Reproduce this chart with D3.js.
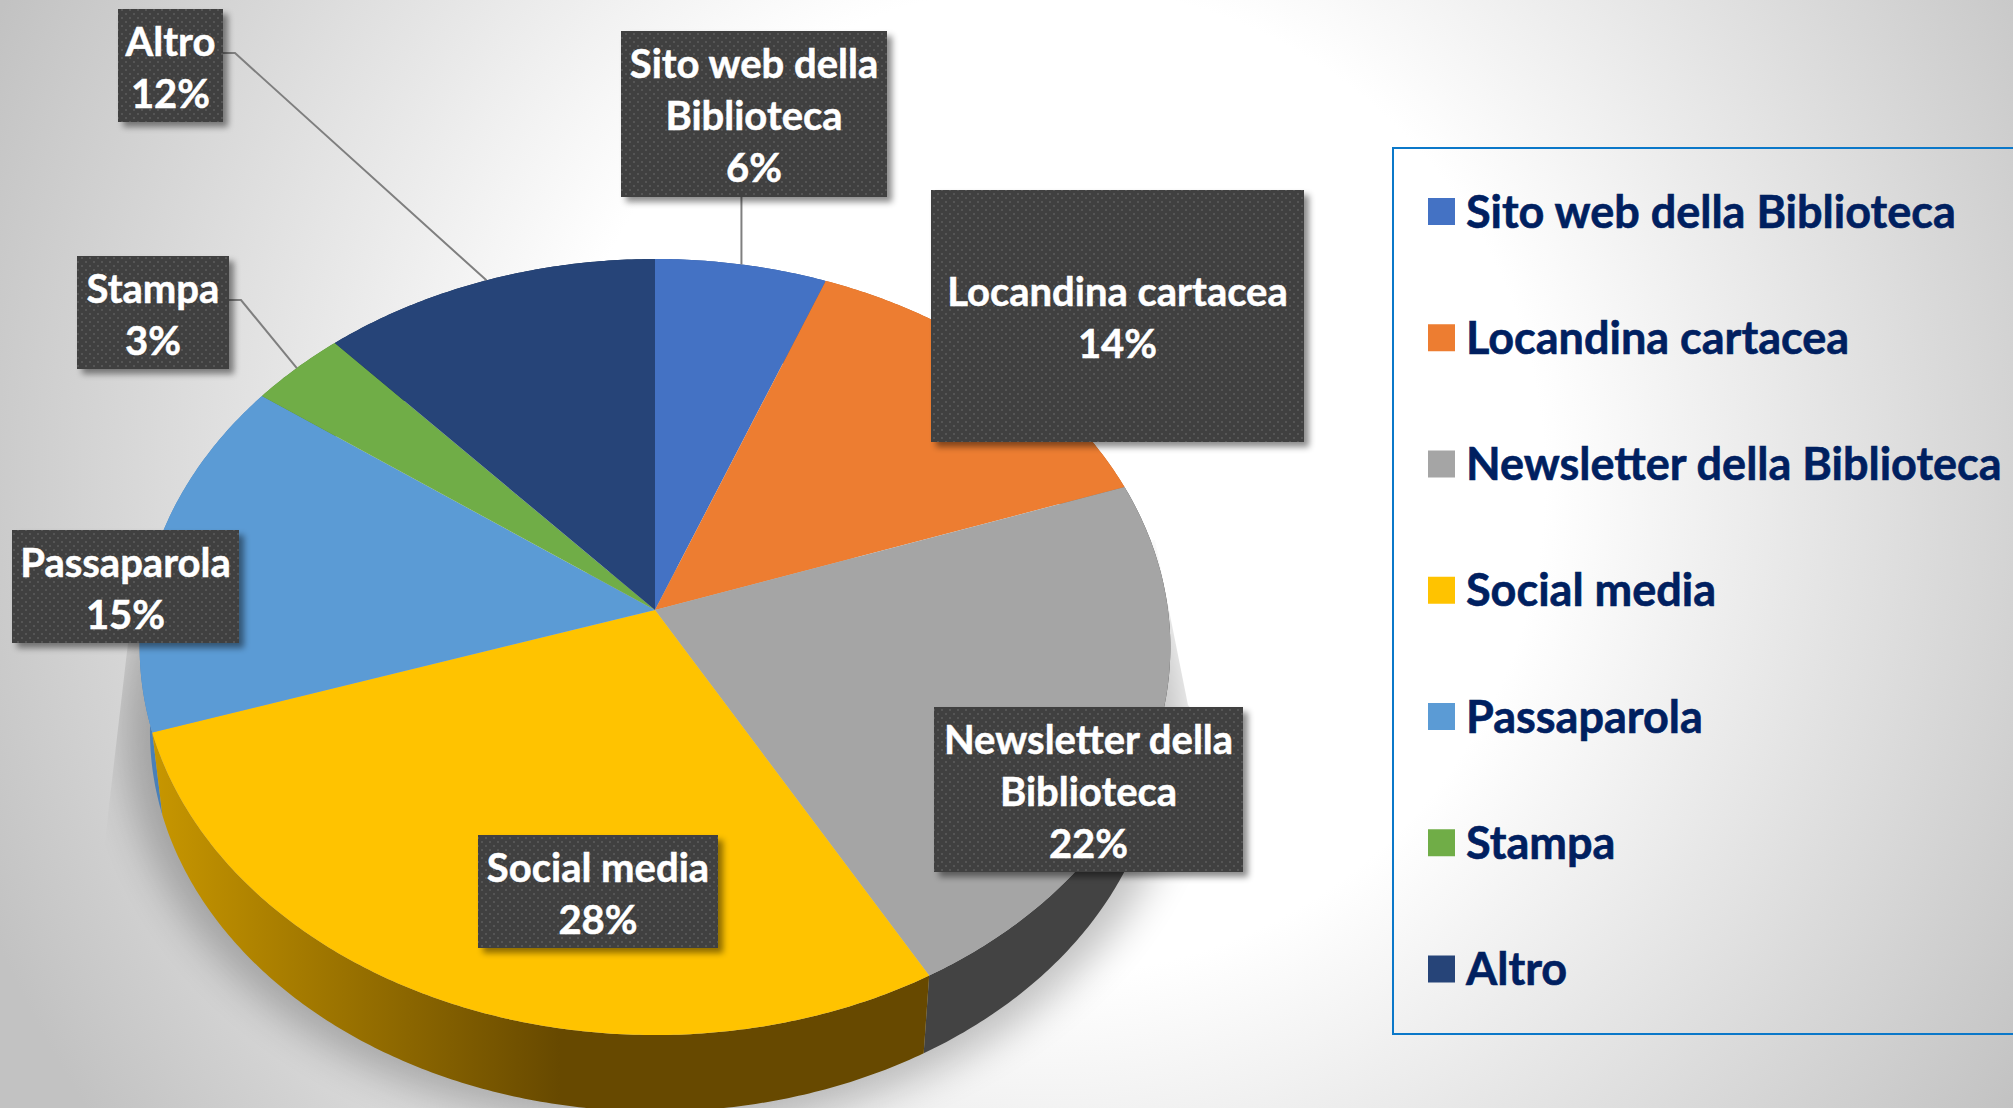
<!DOCTYPE html>
<html>
<head>
<meta charset="utf-8">
<script src="https://cdn.jsdelivr.net/npm/d3@7"></script>
<style>
    html, body { margin: 0; padding: 0; background: #fff; overflow: hidden; }
    svg { display: block; }
    text { font-family: Lato, "Open Sans", sans-serif; font-weight: 700; }
</style>
</head>
<body>
<svg width="2013" height="1108"></svg>
<script>
;(function(){

    var categories = ["Sito web della Biblioteca", "Locandina cartacea", "Newsletter della Biblioteca",
        "Social media", "Passaparola", "Stampa", "Altro"];
    var values = [5.9, 13.75, 22.2, 28.15, 15, 3.35, 11.65];
    var sliceColors = ["#4472C4", "#ED7D31", "#A5A5A5", "#FFC300", "#5B9BD5", "#70AD47", "#264478"];
    var wallColors = ["#2f5597", "#b85f1f", "#434343", "url(#wallGold)", "#4a80b8", "#55853a", "#1b3257"];

    // testo delle etichette, a capo come nel grafico
    var labelLines = [["Sito web della", "Biblioteca"], ["Locandina cartacea"], ["Newsletter della", "Biblioteca"],
        ["Social media"], ["Passaparola"], ["Stampa"], ["Altro"]];
    // riquadri delle etichette: x0, y0, x1, y1
    var labelBoxes = [[621, 31, 887, 197], [931, 190, 1304, 442], [934, 707, 1243, 872],
        [478, 835, 718, 948], [12, 530, 239, 643], [77, 256, 229, 369], [118, 9, 223, 122]];
    var hasLeader = [true, false, false, false, false, true, true];

    var svg = d3.select("svg"),
        width = +svg.attr("width"),
        height = +svg.attr("height");

    // torta vista in prospettiva
    var cx = 655, cy = 610,
        rx = 513, ry = 384.5,
        persp = 0.0954,
        depth = 85, bottomScale = 0.98;

    function project(angle, scale, dy){
        var den = 1 + persp * Math.cos(angle);
        return [cx + scale * rx * Math.sin(angle) / den,
                cy + dy - scale * ry * Math.cos(angle) / den];
    }

    function rim(a0, a1, scale, dy){
        var n = Math.max(2, Math.ceil(Math.abs(a1 - a0) / 0.01));
        return d3.range(n + 1).map(function(i){
            return project(a0 + (a1 - a0) * i / n, scale, dy);
        });
    }

    var line = d3.line();
    var pie = d3.pie().sort(null)(values);

    var defs = svg.append("defs");

    var bg = defs.append("radialGradient").attr("id", "bg")
        .attr("gradientUnits", "userSpaceOnUse")
        .attr("cx", 1050).attr("cy", 480).attr("r", 1150);
    bg.append("stop").attr("offset", 0.43).attr("stop-color", "#ffffff");
    bg.append("stop").attr("offset", 1).attr("stop-color", "#c2c2c2");

    var gold = defs.append("linearGradient").attr("id", "wallGold")
        .attr("gradientUnits", "userSpaceOnUse")
        .attr("x1", 150).attr("x2", 560).attr("y1", 0).attr("y2", 0);
    gold.append("stop").attr("offset", 0).attr("stop-color", "#c89700");
    gold.append("stop").attr("offset", 1).attr("stop-color", "#674900");

    var dots = defs.append("pattern").attr("id", "dots")
        .attr("patternUnits", "userSpaceOnUse")
        .attr("width", 8).attr("height", 8);
    dots.append("rect").attr("width", 8).attr("height", 8).attr("fill", "#404040");
    dots.append("rect").attr("x", 1).attr("y", 1).attr("width", 2).attr("height", 2).attr("fill", "#545454");
    dots.append("rect").attr("x", 5).attr("y", 5).attr("width", 2).attr("height", 2).attr("fill", "#545454");

    defs.append("filter").attr("id", "boxShadow")
        .attr("x", "-10%").attr("y", "-10%").attr("width", "130%").attr("height", "130%")
        .append("feDropShadow")
        .attr("dx", 5).attr("dy", 5).attr("stdDeviation", 3)
        .attr("flood-color", "#000").attr("flood-opacity", 0.45);

    defs.append("filter").attr("id", "pieBlur")
        .attr("x", "-15%").attr("y", "-15%").attr("width", "130%").attr("height", "130%")
        .append("feGaussianBlur").attr("stdDeviation", 20);

    // l'ombra ha i bordi netti in alto a sinistra e a destra
    defs.append("clipPath").attr("id", "shadowClip")
        .append("path")
        .attr("d", line([[133, 600], [98, 900], [0, 1108], [1500, 1108], [1188, 705], [1155, 540]]) + "Z");

    svg.append("rect").attr("width", width).attr("height", height).attr("fill", "url(#bg)");

    svg.append("g").attr("clip-path", "url(#shadowClip)")
        .append("path")
        .attr("d", line(rim(0, 2 * Math.PI, 1.03, depth - 4)) + "Z")
        .attr("fill", "#000")
        .attr("opacity", 0.24)
        .attr("filter", "url(#pieBlur)");

    // pareta laterale: prima le fette piu lontane
    var wallOrder = pie.slice().sort(function(a, b){
        return Math.cos((b.startAngle + b.endAngle) / 2) - Math.cos((a.startAngle + a.endAngle) / 2);
    });

    svg.append("g").selectAll("path")
        .data(wallOrder)
        .enter().append("path")
        .attr("d", function(d){
            return line(rim(d.startAngle, d.endAngle, 1, 0)
                .concat(rim(d.endAngle, d.startAngle, bottomScale, depth))) + "Z";
        })
        .attr("fill", function(d){ return wallColors[d.index]; });

    svg.append("g").selectAll("path")
        .data(pie)
        .enter().append("path")
        .attr("d", function(d){
            return line([[cx, cy]].concat(rim(d.startAngle, d.endAngle, 1, 0))) + "Z";
        })
        .attr("fill", function(d){ return sliceColors[d.index]; });

    // linee guida
    svg.append("g").selectAll("path")
        .data(pie.filter(function(d){ return hasLeader[d.index]; }))
        .enter().append("path")
        .attr("d", function(d){
            var end = project((d.startAngle + d.endAngle) / 2, 1, 0);
            var box = labelBoxes[d.index];
            if (end[0] > box[0] && end[0] < box[2]) {
                return line([[end[0], box[3]], end]);
            }
            var y = box[1] + (box[3] - box[1]) * 0.39;
            return line([[box[2], y], [box[2] + 12, y], end]);
        })
        .attr("fill", "none")
        .attr("stroke", "#7f7f7f")
        .attr("stroke-width", 2);

    // etichette
    var labels = svg.append("g").selectAll("g")
        .data(pie)
        .enter().append("g");

    labels.append("rect")
        .attr("x", function(d){ return labelBoxes[d.index][0]; })
        .attr("y", function(d){ return labelBoxes[d.index][1]; })
        .attr("width", function(d){ return labelBoxes[d.index][2] - labelBoxes[d.index][0]; })
        .attr("height", function(d){ return labelBoxes[d.index][3] - labelBoxes[d.index][1]; })
        .attr("fill", "url(#dots)")
        .attr("filter", "url(#boxShadow)");

    labels.each(function(d){
        var box = labelBoxes[d.index];
        var rows = labelLines[d.index].concat([Math.round(values[d.index]) + "%"]);
        d3.select(this).selectAll("text")
            .data(rows)
            .enter().append("text")
            .attr("x", (box[0] + box[2]) / 2)
            .attr("y", function(t, i){
                return (box[1] + box[3]) / 2 + (i - (rows.length - 1) / 2) * 52 + 16;
            })
            .attr("text-anchor", "middle")
            .attr("font-size", 40)
            .attr("fill", "#ffffff")
            .attr("stroke", "#ffffff")
            .attr("stroke-width", 0.5)
            .text(function(t){ return t; });
    });

    // legenda
    var legendY = d3.scalePoint().domain(categories).range([211.5, 969]);

    svg.append("rect")
        .attr("x", 1393).attr("y", 148)
        .attr("width", width).attr("height", 886)
        .attr("fill", "none")
        .attr("stroke", "#0b78c9")
        .attr("stroke-width", 2);

    var legend = svg.append("g").selectAll("g")
        .data(categories)
        .enter().append("g")
        .attr("transform", function(d){ return "translate(0," + legendY(d) + ")"; });

    legend.append("rect")
        .attr("x", 1428).attr("y", -13.5)
        .attr("width", 27).attr("height", 27)
        .attr("fill", function(d, i){ return sliceColors[i]; });

    legend.append("text")
        .attr("x", 1466).attr("y", 16)
        .attr("font-size", 45)
        .attr("fill", "#002060")
        .attr("stroke", "#002060")
        .attr("stroke-width", 0.6)
        .text(function(d){ return d; });

}());
</script>
</body>
</html>
